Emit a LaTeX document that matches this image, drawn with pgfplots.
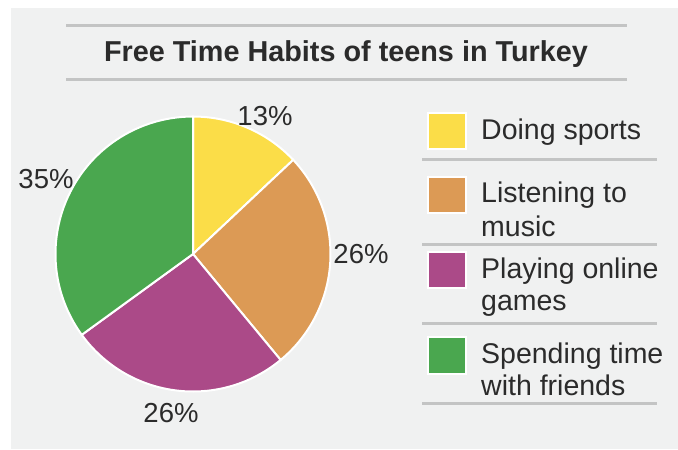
\documentclass[border=0pt]{standalone}
\usepackage{pgfplots}
\usepackage{pgfplotstable}
\pgfplotsset{compat=1.18}
\usepackage{fontspec}
\setmainfont{Liberation Sans}
\definecolor{bg}{HTML}{F0F1F1}
\definecolor{linegray}{HTML}{C3C4C4}
\definecolor{txt}{HTML}{2B2B2B}
\definecolor{pyellow}{HTML}{FBDD48}
\definecolor{porange}{HTML}{DC9A55}
\definecolor{ppurple}{HTML}{AB4A88}
\definecolor{pgreen}{HTML}{4AA74F}

\pgfplotstableread{
value lx ly
13 265 125
26 361 263
26 171 422
35 46 188
}\piedata
\newcommand\getval[3]{\pgfplotstablegetelem{#1}{#2}\of\piedata\global\let#3\pgfplotsretval}
\getval{0}{value}\vA \getval{1}{value}\vB \getval{2}{value}\vC \getval{3}{value}\vD
\getval{0}{lx}\xA \getval{1}{lx}\xB \getval{2}{lx}\xC \getval{3}{lx}\xD
\getval{0}{ly}\yA \getval{1}{ly}\yB \getval{2}{ly}\yC \getval{3}{ly}\yD
\pgfmathsetmacro\aA{90}
\pgfmathsetmacro\aB{\aA-3.6*\vA}
\pgfmathsetmacro\aC{\aB-3.6*\vB}
\pgfmathsetmacro\aD{\aC-3.6*\vC}
\pgfmathsetmacro\aE{\aD-3.6*\vD}

\begin{document}%
\begin{tikzpicture}
\begin{scope}[x=1bp,y=-1bp]
\fill[bg] (11,8) rectangle (678,449);
\draw[linegray, line width=3bp] (66,25) -- (627,25);
\draw[linegray, line width=3bp] (66,79) -- (627,79);
\node[anchor=base, inner sep=0pt, font=\fontsize{28.8bp}{33bp}\selectfont\bfseries, text=txt] at (346,61) {Free Time Habits of teens in Turkey};
\end{scope}

\begin{axis}[at={(0,-450bp)}, anchor=south west, scale only axis,
  width=678bp, height=450bp, xmin=0, xmax=678, ymin=0, ymax=450,
  y dir=reverse, hide axis, clip=false]
\fill[pyellow, draw=white, line width=2bp] (axis cs:193,254) -- ++(\aA:137.5bp) arc[start angle=\aA, end angle=\aB, radius=137.5bp] -- cycle;
\fill[porange, draw=white, line width=2bp] (axis cs:193,254) -- ++(\aB:137.5bp) arc[start angle=\aB, end angle=\aC, radius=137.5bp] -- cycle;
\fill[ppurple, draw=white, line width=2bp] (axis cs:193,254) -- ++(\aC:137.5bp) arc[start angle=\aC, end angle=\aD, radius=137.5bp] -- cycle;
\fill[pgreen, draw=white, line width=2bp] (axis cs:193,254) -- ++(\aD:137.5bp) arc[start angle=\aD, end angle=\aE, radius=137.5bp] -- cycle;
\node[anchor=base, inner sep=0pt, font=\fontsize{27.5bp}{32bp}\selectfont, text=txt] at (axis cs:\xA,\yA) {\vA\%};
\node[anchor=base, inner sep=0pt, font=\fontsize{27.5bp}{32bp}\selectfont, text=txt] at (axis cs:\xB,\yB) {\vB\%};
\node[anchor=base, inner sep=0pt, font=\fontsize{27.5bp}{32bp}\selectfont, text=txt] at (axis cs:\xC,\yC) {\vC\%};
\node[anchor=base, inner sep=0pt, font=\fontsize{27.5bp}{32bp}\selectfont, text=txt] at (axis cs:\xD,\yD) {\vD\%};
\end{axis}

\begin{scope}[x=1bp,y=-1bp, every node/.style={anchor=base west, inner sep=0pt, font=\fontsize{28.5bp}{34bp}\selectfont, text=txt}]
\filldraw[fill=pyellow, draw=white, line width=1.5bp] (428,113) rectangle (466,149);
\filldraw[fill=porange, draw=white, line width=1.5bp] (428,177) rectangle (466,213);
\filldraw[fill=ppurple, draw=white, line width=1.5bp] (428,252) rectangle (466,288);
\filldraw[fill=pgreen, draw=white, line width=1.5bp] (428,337) rectangle (466,374);
\node at (481,139) {Doing sports};
\node at (481,202) {Listening to};
\node at (481,236) {music};
\node at (481,278) {Playing online};
\node at (481,310) {games};
\node at (481,363) {Spending time};
\node at (481,395) {with friends};
\foreach \yy in {159,244,323,403} \draw[linegray, line width=3bp] (422,\yy) -- (657,\yy);
\end{scope}
\pgfresetboundingbox
\path[use as bounding box] (0,0) rectangle (678bp,-450bp);
\end{tikzpicture}%
\end{document}
